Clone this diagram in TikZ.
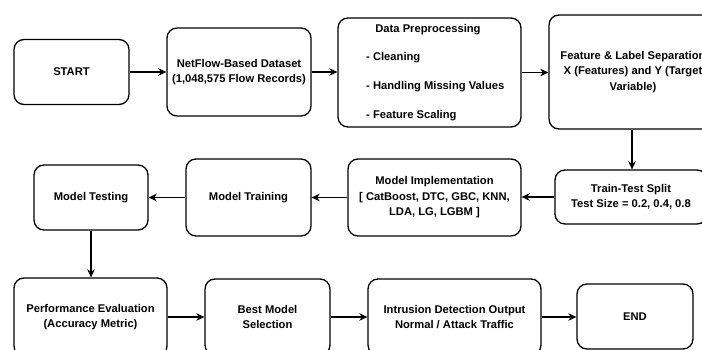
\documentclass[tikz,border=0pt]{standalone}
\usepackage{fontspec}
\setmainfont{Liberation Sans}
\usetikzlibrary{arrows.meta}
\tikzset{
  box/.style={draw=black, line width=1.3pt, rounded corners=10pt, fill=white, align=center,
    font=\fontsize{11.2}{15.6}\selectfont\bfseries, inner sep=0pt},
  txt/.style={font=\fontsize{11.2}{15.6}\selectfont\bfseries, inner sep=0pt, anchor=west},
  arr/.style={line width=1.2pt, -{Stealth[length=8pt,width=7.5pt,inset=2.5pt]}}
}
\begin{document}
\begin{tikzpicture}[x=1pt,y=-1pt]
\useasboundingbox (0,0) rectangle (702,350);
\clip (0,0) rectangle (702,350);
\fill[white] (0,0) rectangle (702,350);
% row 1
\node[box, minimum width=115pt, minimum height=65pt] (start) at (71.5,72) {START};
\node[box, minimum width=144pt, minimum height=88pt] (netflow) at (239,72) {NetFlow-Based Dataset\\(1,048,575 Flow Records)};
\node[box, minimum width=183pt, minimum height=109pt] (prep) at (429.5,72.5) {};
\node[txt, anchor=center] (preptitle) at (428,30) {Data Preprocessing};
\node[txt] (prep1) at (366,58) {- Cleaning};
\node[txt] (prep2) at (366,87) {- Handling Missing Values};
\node[txt] (prep3) at (366,116) {- Feature Scaling};
\node[box, minimum width=168pt, minimum height=114pt] (feat) at (633,72) {Feature \& Label Separation\\X (Features) and Y (Target\\Variable)};
% row 2
\node[box, minimum width=152pt, minimum height=54pt] (split) at (631,197) {Train-Test Split\\Test Size = 0.2, 0.4, 0.8};
\node[box, minimum width=173pt, minimum height=77pt] (impl) at (434.5,197.5) {Model Implementation\\{[} CatBoost, DTC, GBC, KNN,\\LDA, LG, LGBM ]};
\node[box, minimum width=125pt, minimum height=77pt] (train) at (248.5,197.5) {Model Training};
\node[box, minimum width=114pt, minimum height=65pt] (test) at (91,197.5) {Model Testing};
% row 3
\node[box, minimum width=153pt, minimum height=78pt] (perf) at (90.5,317) {Performance Evaluation\\(Accuracy Metric)};
\node[box, minimum width=125pt, minimum height=76pt] (best) at (267.5,317) {Best Model\\Selection};
\node[box, minimum width=173pt, minimum height=76pt] (intr) at (454.5,317) {Intrusion Detection Output\\Normal / Attack Traffic};
\node[box, minimum width=116pt, minimum height=65pt] (end) at (635,316.5) {END};
% connectors
\draw[arr] (start.east) -- (start.east -| netflow.west);
\draw[arr] (netflow.east) -- (netflow.east -| prep.west);
\draw[arr] (prep.east) -- (prep.east -| feat.west);
\draw[arr] (feat.south -| 632,0) -- (split.north -| 632,0);
\draw[arr] (split.west) -- (split.west -| impl.east);
\draw[arr] (impl.west) -- (impl.west -| train.east);
\draw[arr] (train.west) -- (train.west -| test.east);
\draw[arr] (test.south) -- (test.south |- perf.north);
\draw[arr] (perf.east) -- (perf.east -| best.west);
\draw[arr] (best.east) -- (best.east -| intr.west);
\draw[arr] (intr.east) -- (intr.east -| end.west);
\end{tikzpicture}
\end{document}
